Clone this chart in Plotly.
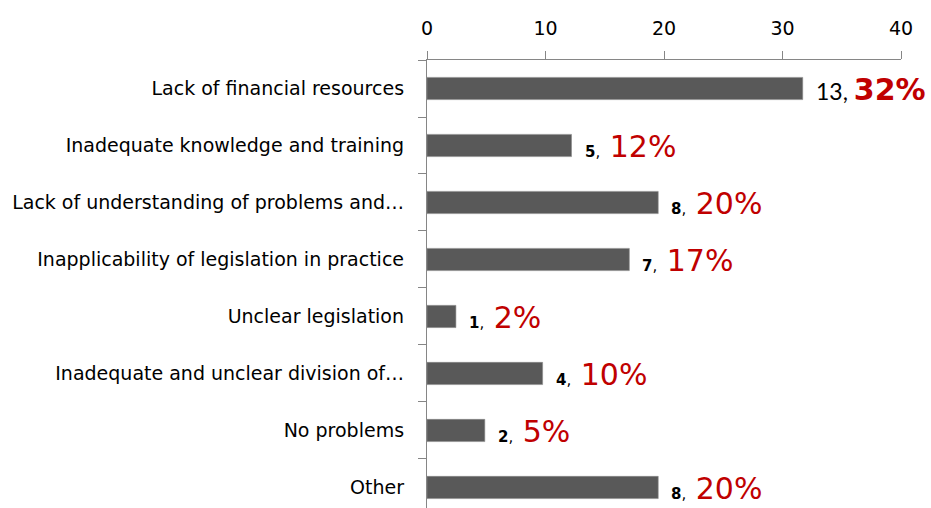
import plotly.graph_objects as go

categories = [
    "Lack of financial resources",
    "Inadequate knowledge and training",
    "Lack of understanding of problems and…",
    "Inapplicability of legislation in practice",
    "Unclear legislation",
    "Inadequate and unclear division of…",
    "No problems",
    "Other",
]
counts = [13, 5, 8, 7, 1, 4, 2, 8]
total_respondents = 41
percents = [c / total_respondents * 100 for c in counts]
x_ticks = [0, 10, 20, 30, 40]

fig = go.Figure()
fig.add_trace(go.Bar(
    y=categories, x=percents, orientation="h",
    marker=dict(color="#595959", line=dict(color="#8a8a8a", width=0.6)),
    hoverinfo="skip",
))

for i, (cat, c, p) in enumerate(zip(categories, counts, percents)):
    if i == 0:
        txt = (f"<span style='font-size:23px;font-family:Lato;color:#000000'>{c}, </span>"
               f"<span style='color:#C00000;font-size:30px'><b>{round(p)}%</b></span>")
    else:
        txt = (f"<span style='font-size:15px;color:#000000'><b>{c}</b>,  </span>"
               f"<span style='color:#C00000;font-size:30px'>{round(p)}%</span>")
    fig.add_annotation(
        x=p, y=cat, xref="x", yref="y", text=txt, showarrow=False,
        xanchor="left", yanchor="middle", xshift=11, yshift=-1,
        font=dict(family="DejaVu Sans", color="#000000", size=15),
    )

fig.update_layout(
    width=931, height=508,
    margin=dict(l=427, r=30, t=60, b=0),
    paper_bgcolor="white", plot_bgcolor="white",
    showlegend=False, bargap=0.61,
    font=dict(family="DejaVu Sans", color="#000000"),
)
fig.update_xaxes(
    side="top", range=[0, 40], tickvals=x_ticks, showgrid=False, zeroline=False,
    showline=True, linecolor="#868686", linewidth=1.3, automargin=False,
    ticks="outside", ticklen=8, tickcolor="#868686", ticklabelstandoff=8,
    tickfont=dict(family="DejaVu Sans", size=19, color="#000000"),
)
fig.update_yaxes(
    categoryorder="array", categoryarray=categories,
    range=[7.36, -0.5], showgrid=False, zeroline=False, automargin=False,
    showline=True, linecolor="#868686", linewidth=1.3,
    ticks="outside", ticklen=8, tickcolor="#868686", tickson="boundaries",
    ticklabelstandoff=18,
    tickfont=dict(family="DejaVu Sans", size=19, color="#000000"),
)

fig.write_html(
    "out.html",
    config={"displayModeBar": False},
    post_script="document.body.style.margin='0px';document.body.style.overflow='hidden';",
)
